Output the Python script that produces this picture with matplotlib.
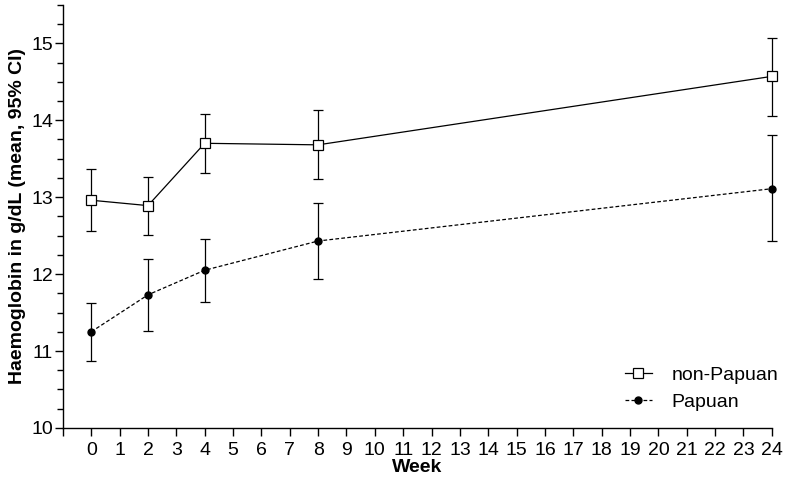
import matplotlib
matplotlib.use("Agg")
import matplotlib.pyplot as plt
from matplotlib.lines import Line2D
import numpy as np

weeks = [0, 2, 4, 8, 24]
nonpap_mean = [12.96, 12.89, 13.70, 13.68, 14.57]
nonpap_lo = [12.56, 12.51, 13.32, 13.23, 14.06]
nonpap_hi = [13.37, 13.26, 14.08, 14.13, 15.07]
pap_mean = [11.25, 11.73, 12.05, 12.43, 13.11]
pap_lo = [10.87, 11.26, 11.64, 11.93, 12.43]
pap_hi = [11.62, 12.20, 12.45, 12.93, 13.81]
xtick_labels = [str(i) for i in range(0, 25)]

plt.rcParams['font.family'] = ['Liberation Sans', 'DejaVu Sans']

fig = plt.figure(figsize=(7.86, 4.83), dpi=100)
ax = fig.add_axes([0.080, 0.114, 0.902, 0.876])

def err(m, lo, hi):
    m = np.array(m); return [m - np.array(lo), np.array(hi) - m]

sq_style = dict(color='black', lw=0.9, marker='s', markersize=7, markerfacecolor='white',
                markeredgecolor='black', markeredgewidth=0.9)
dot_style = dict(color='black', lw=0.9, ls=(0, (3, 1.8)), marker='o', markersize=5,
                 markerfacecolor='black', markeredgecolor='black')

c1 = ax.errorbar(weeks, nonpap_mean, yerr=err(nonpap_mean, nonpap_lo, nonpap_hi),
                 capsize=3.8, elinewidth=0.9, capthick=0.9, zorder=3, **sq_style)
c2 = ax.errorbar(weeks, pap_mean, yerr=err(pap_mean, pap_lo, pap_hi),
                 capsize=3.8, elinewidth=0.9, capthick=0.9, zorder=3, **dot_style)
for c in (c1, c2):
    for art in c.get_children():
        art.set_clip_on(False)

ax.set_xlim(-1, 24)
ax.set_ylim(10, 15.5)
ax.set_xticks(range(-1, 25))
ax.set_xticklabels([''] + xtick_labels)
ax.set_yticks([10, 11, 12, 13, 14, 15])
ax.set_yticks(np.arange(10, 15.51, 0.25), minor=True)
ax.tick_params(axis='both', which='major', labelsize=14, length=6, width=1, direction='out')
ax.tick_params(axis='y', which='minor', length=4, width=1, direction='out')
ax.tick_params(axis='x', pad=4)
ax.tick_params(axis='y', pad=1)
for s in ['top', 'right']:
    ax.spines[s].set_visible(False)
for s in ['left', 'bottom']:
    ax.spines[s].set_linewidth(1)

ax.set_xlabel('Week', fontsize=14, fontweight='bold', labelpad=0)
ax.set_ylabel('Haemoglobin in g/dL (mean, 95% CI)', fontsize=14, fontweight='bold', labelpad=4)

handles = [Line2D([], [], **sq_style), Line2D([], [], **dot_style)]
leg = ax.legend(handles, ['non-Papuan', 'Papuan'], loc='lower right',
                bbox_to_anchor=(1.0335, -0.001), frameon=False,
                fontsize=14, handlelength=1.4, handletextpad=1.0, labelspacing=0.5)

fig.savefig('out.png', dpi=100)
